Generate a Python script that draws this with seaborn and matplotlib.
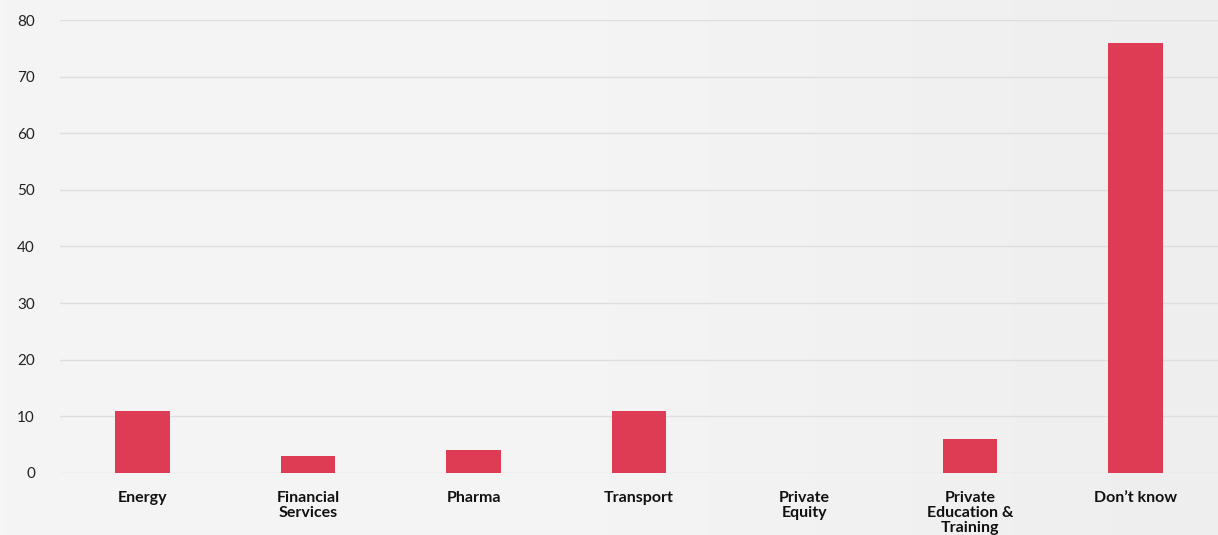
import numpy as np
import pandas as pd
import seaborn as sns
import matplotlib.pyplot as plt

# chart data
categories = ["Energy", "Financial\nServices", "Pharma", "Transport",
              "Private\nEquity", "Private\nEducation &\nTraining", "Don\u2019t know"]
values = [11, 3, 4, 11, 0, 6, 76]
y_ticks = [0, 10, 20, 30, 40, 50, 60, 70, 80]

df = pd.DataFrame({"category": categories, "value": values})

sns.set_theme(style="white")
plt.rcParams["font.family"] = ["Lato", "DejaVu Sans"]

fig = plt.figure(figsize=(12.18, 5.35), dpi=100)
fig.patch.set_facecolor("#f4f4f4")

# soft left-to-right background gradient
bg = fig.add_axes([0, 0, 1, 1], zorder=-10)
grad = np.linspace(0, 1, 256).reshape(1, -1)
bg.imshow(grad, aspect="auto", cmap=sns.blend_palette(["#f5f5f5", "#f4f4f4", "#eeeeee"], as_cmap=True),
          extent=[0, 1, 0, 1])
bg.axis("off")

ax = fig.add_axes([60 / 1218, 62 / 535, 1 - 60 / 1218, (473 - 20) / 535])
ax.patch.set_alpha(0)

sns.barplot(data=df, x="category", y="value", color="#de3b55", width=0.33,
            saturation=1, linewidth=0, ax=ax, zorder=3)

ax.set_ylim(0, 80)
ax.set_xlim(-0.5, len(categories) - 0.5)
ax.set_yticks(y_ticks)
ax.yaxis.grid(True, color="#dedede", linewidth=1)
ax.set_axisbelow(True)
for s in ax.spines.values():
    s.set_visible(False)
ax.set_xlabel("")
ax.set_ylabel("")
ax.tick_params(axis="y", length=0, pad=18, labelsize=11, labelcolor="#222222")
ax.tick_params(axis="x", length=0, pad=13)
ax.set_xticks(range(len(categories)))
ax.set_xticklabels(categories, fontsize=11.5, fontweight="bold", color="#111111",
                   linespacing=1.1, va="top")

fig.savefig("out.png", dpi=100, facecolor=fig.get_facecolor())
